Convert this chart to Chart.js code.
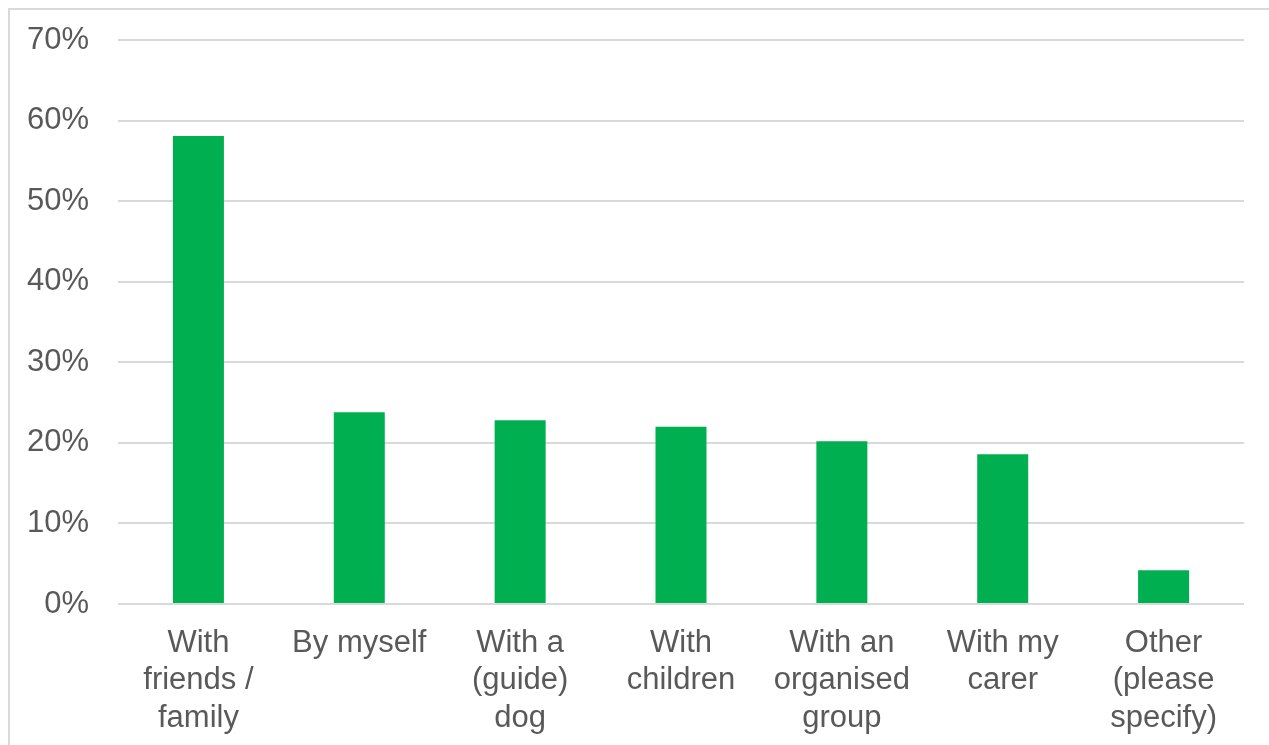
<!DOCTYPE html>
<html lang="en">
<head>
  <meta charset="UTF-8">
  <title>Who do you go out with</title>
  <script src="https://cdn.jsdelivr.net/npm/chart.js"></script>
  <style>
    html, body {
      margin: 0;
      padding: 0;
      width: 1269px;
      height: 745px;
      overflow: hidden;
      background: #fff;
    }
    .frame {
      position: absolute;
      left: 8px;
      top: 8px;
      width: 1300px;
      height: 800px;
      border: 2px solid #d9d9d9;
      box-sizing: border-box;
    }
    .chart-box {
      position: absolute;
      left: 0;
      top: 0;
      width: 1269px;
      height: 745px;
    }
  </style>
</head>
<body>
  <div class="frame"></div>
  <div class="chart-box">
    <canvas id="companyChart" width="1269" height="745"></canvas>
  </div>

  <script>
    const categories = [
      ['With', 'friends /', 'family'],
      'By myself',
      ['With a', '(guide)', 'dog'],
      ['With', 'children'],
      ['With an', 'organised', 'group'],
      ['With my', 'carer'],
      ['Other', '(please', 'specify)']
    ];
    const shares = [58.1, 23.8, 22.8, 22.0, 20.2, 18.6, 4.2];
    const yTicks = [0, 10, 20, 30, 40, 50, 60, 70];

    const textColor = '#595959';
    const gridColor = '#d9d9d9';
    const fontFamily = '"Liberation Sans", Arial, sans-serif';

    new Chart(document.getElementById('companyChart').getContext('2d'), {
      type: 'bar',
      data: {
        labels: categories,
        datasets: [{
          data: shares,
          backgroundColor: '#00b050',
          borderWidth: 0,
          categoryPercentage: 1,
          barPercentage: 0.317
        }]
      },
      options: {
        responsive: false,
        animation: false,
        layout: { padding: { top: 40, right: 25, left: 0, bottom: 0 } },
        plugins: {
          legend: { display: false },
          tooltip: { enabled: false }
        },
        scales: {
          x: {
            grid: { display: false, drawTicks: false },
            border: { display: false },
            ticks: {
              color: textColor,
              padding: 21,
              maxRotation: 0,
              autoSkip: false,
              font: { family: fontFamily, size: 31, lineHeight: 1.2 }
            },
            afterFit: scale => { scale.height = 141; }
          },
          y: {
            min: 0,
            max: yTicks[yTicks.length - 1],
            afterBuildTicks: scale => { scale.ticks = yTicks.map(v => ({ value: v })); },
            grid: { color: gridColor, lineWidth: 2, drawTicks: false },
            border: { display: false },
            ticks: {
              color: textColor,
              padding: 29,
              font: { family: fontFamily, size: 31 },
              callback: v => v + '%'
            },
            // fixed axis width; the tick padding should not push the plot down
            afterFit: scale => {
              scale.width = 118;
              scale.paddingTop = 0;
              scale.paddingBottom = 0;
            }
          }
        }
      }
    });
  </script>
</body>
</html>
